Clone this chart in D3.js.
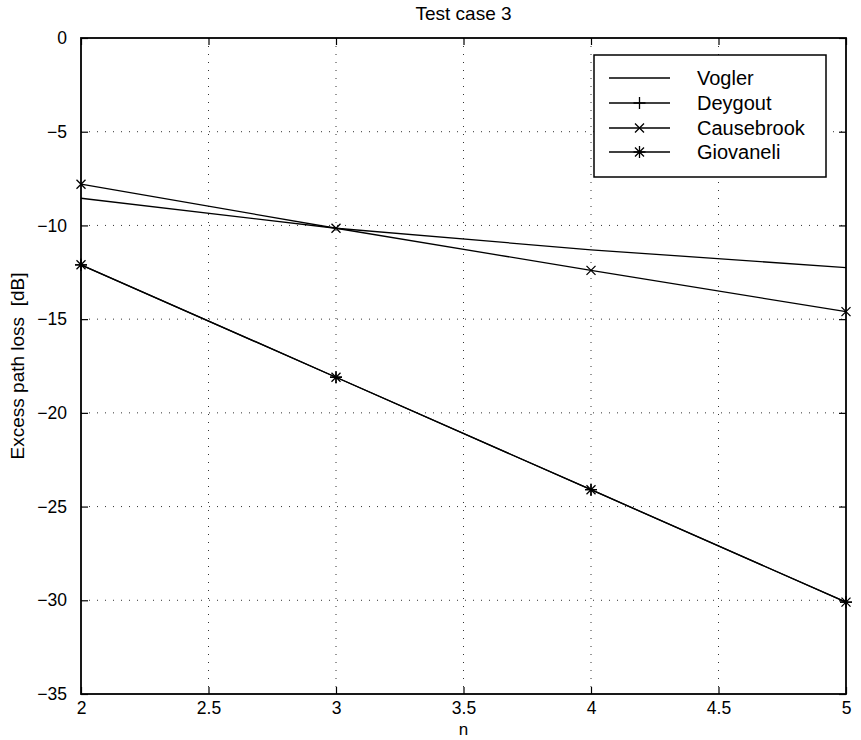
<!DOCTYPE html>
<html><head><meta charset="utf-8">
<script src="https://cdn.jsdelivr.net/npm/d3@7"></script>
<style>body{margin:0;background:#fff}svg{display:block}text{font-family:"Liberation Sans",Arial,sans-serif;fill:#000}</style>
</head><body>
<svg id="c" width="861" height="740"></svg>
<script>
const nValues = [2, 3, 4, 5];
const vogler = [-8.55, -10.15, -11.3, -12.25];
const deygout = [-12.1, -18.1, -24.1, -30.1];
const causebrook = [-7.8, -10.15, -12.4, -14.6];
const giovaneli = [-12.1, -18.1, -24.1, -30.1];
const xTicks = [2, 2.5, 3, 3.5, 4, 4.5, 5];
const yTicks = [0, -5, -10, -15, -20, -25, -30, -35];
const seriesNames = ["Vogler", "Deygout", "Causebrook", "Giovaneli"];
const seriesMarkers = ["none", "plus", "x", "star"];
const seriesValues = [vogler, deygout, causebrook, giovaneli];

const L = 81, R = 846, T = 38, B = 694;
const svg = d3.select("#c");
const x = d3.scaleLinear().domain([2, 5]).range([L, R]);
const y = d3.scaleLinear().domain([-35, 0]).range([B, T]);

// grid
const g = svg.append("g");
xTicks.slice(1, -1).forEach(t => g.append("line").attr("x1", x(t)).attr("x2", x(t)).attr("y1", T).attr("y2", B)
  .attr("stroke", "#000").attr("stroke-width", 1).attr("stroke-dasharray", "1,7").attr("opacity", 0.8));
yTicks.slice(1, -1).forEach(t => g.append("line").attr("y1", y(t)).attr("y2", y(t)).attr("x1", L).attr("x2", R)
  .attr("stroke", "#000").attr("stroke-width", 1).attr("stroke-dasharray", "1,7").attr("opacity", 0.8));

// axes
const tickFont = "17.5px";
const xb = svg.append("g").attr("transform", `translate(0,${B})`).call(d3.axisBottom(x).tickValues(xTicks).tickFormat(d3.format("")).tickSizeInner(-7).tickSizeOuter(0).tickPadding(8));
const xt = svg.append("g").attr("transform", `translate(0,${T})`).call(d3.axisTop(x).tickValues(xTicks).tickFormat("").tickSizeInner(-7).tickSizeOuter(0));
const yl = svg.append("g").attr("transform", `translate(${L},0)`).call(d3.axisLeft(y).tickValues(yTicks).tickFormat(d => d < 0 ? "\u2212" + Math.abs(d) : d).tickSizeInner(-7).tickSizeOuter(0).tickPadding(14));
const yr = svg.append("g").attr("transform", `translate(${R},0)`).call(d3.axisRight(y).tickValues(yTicks).tickFormat("").tickSizeInner(-7).tickSizeOuter(0));
[xb, xt, yl, yr].forEach(a => {
  a.select(".domain").remove();
  a.selectAll("line").attr("stroke", "#000").attr("stroke-width", 1.2);
  a.selectAll("text").style("font-size", tickFont).style("font-family", '"Liberation Sans",Arial,sans-serif');
});
svg.append("rect").attr("x", L).attr("y", T).attr("width", R - L).attr("height", B - T)
  .attr("fill", "none").attr("stroke", "#000").attr("stroke-width", 1.8);

// lines
const line = d3.line().x((d, i) => x(nValues[i])).y(d => y(d));
function marker(sel, type, cx, cy, s) {
  const p = d3.path();
  if (type === "plus" || type === "star") { p.moveTo(cx - s, cy); p.lineTo(cx + s, cy); p.moveTo(cx, cy - s); p.lineTo(cx, cy + s); }
  if (type === "x" || type === "star") { const k = s * 0.75; p.moveTo(cx - k, cy - k); p.lineTo(cx + k, cy + k); p.moveTo(cx - k, cy + k); p.lineTo(cx + k, cy - k); }
  if (type !== "none") sel.append("path").attr("d", p.toString()).attr("stroke", "#000").attr("stroke-width", 1.3).attr("fill", "none");
}
seriesValues.forEach((vals, si) => {
  svg.append("path").datum(vals).attr("d", line).attr("fill", "none").attr("stroke", "#000").attr("stroke-width", 1.3);
  vals.forEach((v, i) => marker(svg, seriesMarkers[si], x(nValues[i]), y(v), 6));
});

// legend
const lg = svg.append("g");
lg.append("rect").attr("x", 594).attr("y", 55).attr("width", 232).attr("height", 122).attr("fill", "#fff").attr("stroke", "#000").attr("stroke-width", 1.5);
const rowY = [78, 103, 128, 152];
seriesNames.forEach((nm, i) => {
  lg.append("line").attr("x1", 609).attr("x2", 670).attr("y1", rowY[i]).attr("y2", rowY[i]).attr("stroke", "#000").attr("stroke-width", 1.3);
  marker(lg, seriesMarkers[i], 639.5, rowY[i], 6);
  lg.append("text").attr("x", 697).attr("y", rowY[i]).attr("dy", "0.36em").style("font-size", "20px").text(nm);
});

// titles
svg.append("text").attr("x", (L + R) / 2).attr("y", 20).attr("text-anchor", "middle").style("font-size", "19px").text("Test case 3");
svg.append("text").attr("x", (L + R) / 2).attr("y", 735).attr("text-anchor", "middle").style("font-size", "17px").text("n");
svg.append("text").attr("transform", `translate(24,${(T + B) / 2}) rotate(-90)`).attr("text-anchor", "middle").style("font-size", "19px").text("Excess path loss\u00a0\u00a0[dB]");
</script>
</body></html>
